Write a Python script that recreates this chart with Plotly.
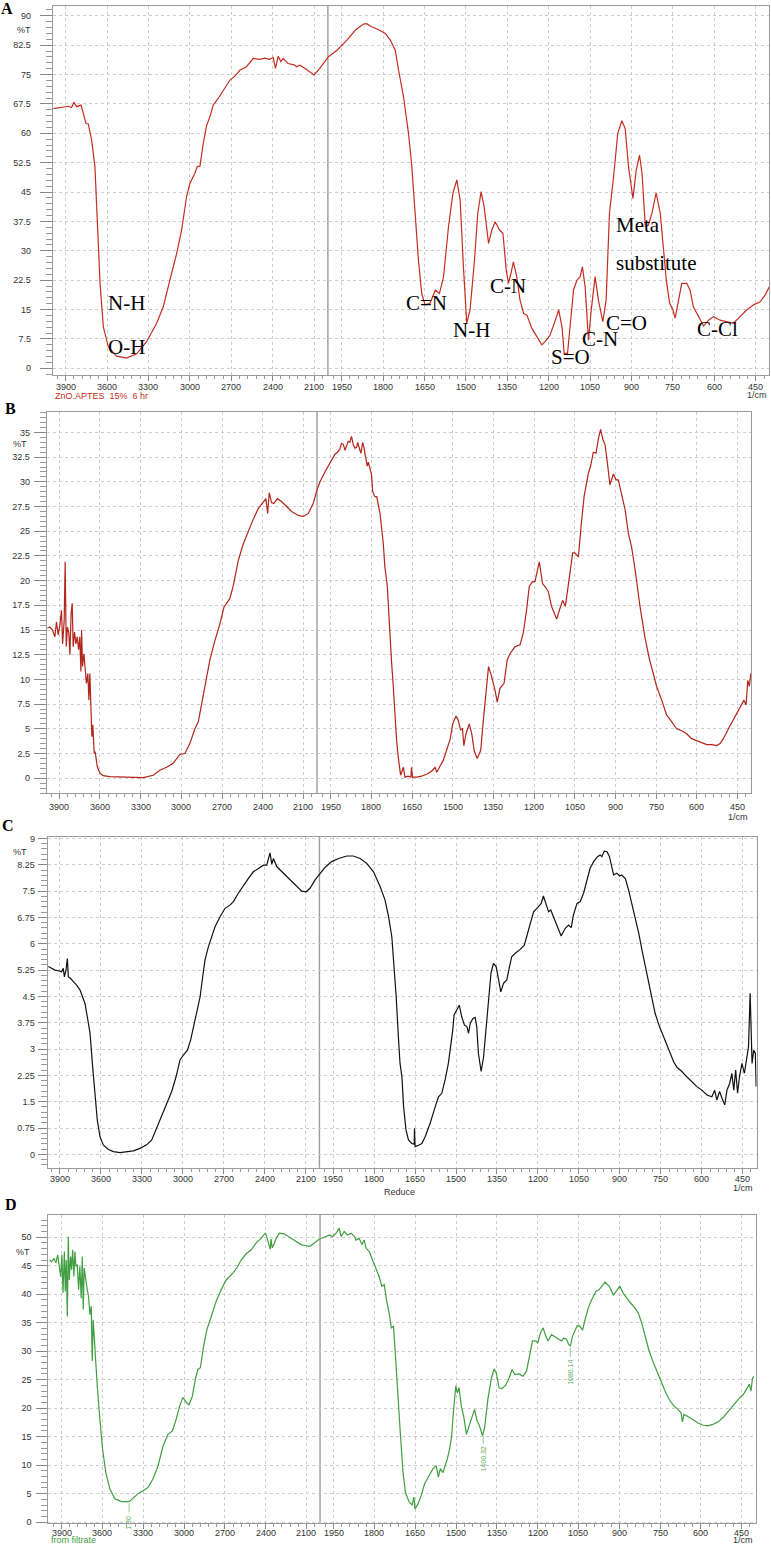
import numpy as np
import plotly.graph_objects as go

W, H = 771, 1544

# ---------------- data (wavenumber 1/cm, %T) ----------------
a_wn = [3989, 3917, 3881, 3857, 3840, 3820, 3789, 3772, 3753, 3736, 3712, 3688, 3671, 3651, 3627, 3591,
        3531, 3458, 3386, 3314, 3241, 3193, 3145, 3096, 3060, 3024, 3000, 2964, 2947, 2927, 2903, 2879,
        2855, 2831, 2795, 2759, 2710, 2674, 2638, 2590, 2541, 2493, 2457, 2421, 2397, 2380, 2360, 2341,
        2324, 2288, 2240, 2228, 2204, 2168, 2100, 2059, 1999, 1967, 1931, 1901, 1871, 1860, 1842, 1818,
        1792, 1774, 1756, 1744, 1726, 1708, 1696, 1684, 1672, 1660, 1648, 1630, 1611, 1596, 1581, 1563,
        1547, 1533, 1521, 1509, 1497, 1485, 1469, 1457, 1445, 1434, 1418, 1406, 1394, 1378, 1366, 1354,
        1346, 1337, 1328, 1316, 1304, 1291, 1279, 1261, 1243, 1225, 1213, 1195, 1176, 1164, 1152, 1144,
        1132, 1122, 1110, 1098, 1086, 1078, 1068, 1056, 1046, 1032, 1020, 1004, 992, 980, 965, 950,
        935, 923, 911, 895, 883, 871, 862, 850, 839, 826, 811, 796, 784, 774, 762, 750,
        742, 730, 718, 700, 688, 676, 658, 639, 621, 603, 579, 549, 531, 507, 483, 458,
        434, 416, 401]
a_pct = [66.3, 66.8, 66.9, 66.6, 67.9, 66.8, 67.2, 65.1, 62.5, 62.4, 58.3, 51.5, 38.7, 21.7, 10.6, 5.5,
         3.1, 2.6, 3.7, 6.8, 11.5, 15.7, 22.5, 29.3, 35.3, 43.8, 47.2, 49.8, 51.5, 51.6, 57.4, 62.0,
         64.2, 67.2, 68.9, 71.0, 73.6, 74.6, 76.1, 77.0, 79.1, 78.9, 79.2, 78.9, 79.4, 76.6, 79.7, 78.3,
         79.1, 77.8, 77.4, 77.0, 77.4, 76.6, 74.9, 76.6, 79.5, 81.2, 83.8, 86.3, 87.9, 88.0, 87.2, 86.5,
         85.5, 83.8, 81.2, 76.1, 69.3, 60.0, 51.5, 39.6, 27.6, 19.1, 16.2, 16.6, 20.0, 19.1, 23.4, 36.2,
         44.7, 48.1, 43.0, 25.9, 11.5, 14.9, 27.6, 39.6, 45.1, 41.3, 31.9, 35.3, 37.4, 35.3, 34.5, 25.1,
         21.7, 24.2, 27.2, 23.4, 17.4, 14.0, 13.6, 10.2, 8.1, 6.0, 6.8, 8.5, 12.3, 14.9, 10.6, 3.8,
         3.8, 11.5, 20.0, 22.5, 23.4, 25.9, 20.8, 7.2, 14.9, 23.4, 17.4, 11.9, 17.4, 39.6, 48.9, 60.0,
         63.2, 61.2, 51.5, 43.4, 50.6, 54.4, 49.8, 36.2, 36.6, 39.6, 44.8, 39.6, 30.2, 22.5, 16.6, 14.9,
         12.8, 17.4, 21.7, 21.7, 20.0, 15.7, 13.2, 10.8, 12.3, 13.2, 12.3, 11.9, 11.5, 13.2, 14.9, 16.2,
         17.0, 18.7, 20.8]

b_wn = [3986, 3969, 3949, 3932, 3920, 3907, 3895, 3883, 3875, 3863, 3856, 3848, 3839, 3829, 3821, 3812,
        3804, 3797, 3787, 3777, 3767, 3757, 3748, 3740, 3735, 3728, 3718, 3708, 3699, 3689, 3681, 3674,
        3667, 3659, 3652, 3642, 3635, 3620, 3600, 3576, 3527, 3453, 3355, 3281, 3207, 3158, 3109, 3060,
        3011, 2974, 2937, 2900, 2875, 2851, 2826, 2789, 2753, 2716, 2686, 2642, 2617, 2581, 2544, 2507,
        2470, 2433, 2396, 2377, 2364, 2352, 2335, 2318, 2293, 2261, 2224, 2187, 2138, 2101, 2065, 2028,
        2000, 1989, 1971, 1952, 1934, 1925, 1916, 1910, 1903, 1897, 1891, 1885, 1879, 1873, 1866, 1860,
        1854, 1850, 1842, 1838, 1832, 1828, 1823, 1815, 1811, 1805, 1799, 1795, 1787, 1780, 1768, 1756,
        1750, 1741, 1734, 1725, 1719, 1713, 1707, 1701, 1692, 1682, 1676, 1664, 1654, 1652, 1648, 1633,
        1615, 1596, 1578, 1565, 1559, 1547, 1535, 1523, 1510, 1500, 1488, 1480, 1471, 1464, 1459, 1451,
        1439, 1430, 1421, 1410, 1397, 1387, 1378, 1368, 1357, 1344, 1336, 1326, 1311, 1299, 1289, 1271,
        1252, 1240, 1228, 1218, 1206, 1197, 1181, 1169, 1160, 1148, 1136, 1117, 1107, 1095, 1085, 1074,
        1058, 1050, 1037, 1027, 1016, 1000, 992, 982, 972, 963, 955, 947, 939, 930, 921, 908,
        898, 890, 878, 865, 853, 841, 828, 810, 792, 775, 761, 749, 730, 712, 693, 675,
        656, 638, 620, 601, 583, 564, 546, 527, 515, 503, 484, 466, 448, 435, 427, 419,
        413, 407, 402]
b_pct = [15.2, 15.3, 15.0, 14.3, 15.8, 14.5, 15.5, 17.0, 13.6, 16.0, 21.9, 13.3, 15.3, 14.7, 12.5, 16.7,
         17.7, 13.3, 14.8, 13.6, 14.3, 13.0, 14.3, 10.8, 15.0, 11.3, 12.6, 11.3, 9.6, 10.6, 7.9, 10.6,
         6.6, 4.2, 5.4, 2.5, 2.7, 1.2, 0.5, 0.25, 0.15, 0.1, 0.05, 0.05, 0.3, 0.8, 1.1, 1.5,
         2.4, 2.5, 3.5, 5.0, 5.7, 7.5, 9.6, 12.0, 13.9, 15.6, 17.3, 18.2, 19.5, 22.0, 23.7, 25.0,
         26.2, 27.3, 28.0, 28.3, 26.8, 28.9, 27.9, 27.8, 28.3, 28.0, 27.5, 27.0, 26.6, 26.5, 26.8, 27.8,
         29.2, 30.0, 31.0, 32.0, 32.8, 33.0, 33.3, 33.9, 33.8, 33.2, 33.6, 34.1, 34.0, 34.6, 33.7, 33.4,
         33.5, 34.0, 33.2, 32.9, 34.0, 33.6, 32.8, 31.6, 32.0, 31.2, 30.7, 29.0, 28.5, 28.5, 26.8, 23.8,
         21.4, 19.4, 15.3, 11.6, 9.3, 6.2, 3.9, 2.2, 0.3, 1.1, 0.1, 0.2, 0.1, 1.1, 0.1, 0.1,
         0.2, 0.4, 0.7, 1.1, 0.6, 1.2, 1.8, 2.8, 3.9, 5.5, 6.3, 5.9, 4.9, 5.0, 3.3, 4.5,
         5.5, 4.5, 2.8, 2.0, 2.8, 5.9, 8.9, 11.3, 10.3, 8.9, 7.7, 9.1, 9.6, 12.0, 12.6, 13.3,
         13.5, 14.7, 17.0, 19.4, 19.9, 19.9, 21.9, 19.7, 19.4, 18.9, 17.4, 16.1, 17.0, 18.0, 17.4, 19.4,
         22.8, 22.8, 22.4, 25.5, 28.5, 30.9, 31.6, 33.0, 32.9, 34.4, 35.3, 34.3, 33.8, 31.9, 29.7, 30.8,
         30.2, 30.2, 28.9, 27.2, 24.8, 23.4, 21.1, 17.4, 14.3, 12.0, 10.6, 9.3, 7.9, 6.4, 5.7, 5.0,
         4.8, 4.5, 4.0, 3.8, 3.6, 3.4, 3.4, 3.3, 3.5, 4.0, 5.0, 5.9, 6.9, 7.4, 7.9, 7.4,
         9.9, 9.3, 10.6]

c_wn = [3985, 3961, 3937, 3912, 3888, 3876, 3868, 3856, 3846, 3839, 3822, 3802, 3778, 3753, 3734, 3717,
        3700, 3680, 3661, 3644, 3627, 3607, 3583, 3546, 3509, 3460, 3412, 3363, 3314, 3265, 3228, 3192,
        3155, 3119, 3082, 3050, 3021, 2996, 2967, 2943, 2918, 2894, 2874, 2855, 2838, 2813, 2789, 2764,
        2728, 2691, 2655, 2630, 2594, 2557, 2520, 2484, 2447, 2410, 2386, 2371, 2362, 2349, 2337, 2313,
        2264, 2215, 2166, 2130, 2098, 2069, 2032, 1998, 1979, 1955, 1930, 1900, 1876, 1851, 1827, 1802,
        1778, 1760, 1747, 1735, 1727, 1719, 1711, 1705, 1698, 1692, 1683, 1674, 1662, 1653, 1652, 1650,
        1637, 1625, 1613, 1595, 1576, 1564, 1552, 1540, 1528, 1519, 1512, 1507, 1497, 1488, 1479, 1469,
        1460, 1454, 1448, 1438, 1430, 1424, 1418, 1408, 1399, 1390, 1381, 1372, 1363, 1353, 1344, 1336,
        1326, 1314, 1304, 1296, 1283, 1265, 1250, 1241, 1228, 1216, 1198, 1188, 1180, 1171, 1161, 1153,
        1143, 1131, 1115, 1100, 1088, 1078, 1070, 1057, 1045, 1033, 1021, 1009, 996, 982, 972, 966,
        957, 947, 938, 929, 923, 911, 901, 893, 880, 868, 856, 844, 831, 819, 807, 795,
        783, 771, 755, 740, 728, 715, 703, 691, 673, 655, 636, 618, 600, 581, 563, 553,
        545, 535, 526, 516, 508, 498, 490, 483, 476, 469, 462, 453, 444, 435, 429, 423,
        416, 410, 404, 401]
c_pct = [5.35, 5.30, 5.25, 5.23, 5.20, 5.30, 5.06, 5.25, 5.58, 5.06, 5.01, 4.92, 4.82, 4.68, 4.49, 4.30,
         3.92, 3.45, 2.50, 1.64, 0.98, 0.50, 0.27, 0.14, 0.08, 0.05, 0.08, 0.10, 0.17, 0.27, 0.41, 0.74,
         1.07, 1.45, 1.79, 2.21, 2.69, 2.83, 2.97, 3.26, 3.73, 4.21, 4.49, 5.06, 5.54, 5.92, 6.20, 6.49,
         6.77, 7.01, 7.10, 7.20, 7.44, 7.67, 7.86, 8.05, 8.15, 8.24, 8.24, 8.43, 8.59, 8.27, 8.43, 8.20,
         8.01, 7.82, 7.63, 7.50, 7.48, 7.58, 7.82, 8.01, 8.18, 8.34, 8.43, 8.50, 8.50, 8.43, 8.29, 8.05,
         7.63, 7.25, 6.77, 6.20, 5.44, 4.49, 3.35, 2.59, 2.21, 1.36, 0.69, 0.41, 0.31, 0.29, 0.74, 0.22,
         0.26, 0.31, 0.50, 0.88, 1.36, 1.64, 1.74, 2.12, 2.59, 3.07, 3.54, 3.97, 4.11, 4.25, 3.92, 3.68,
         3.64, 3.45, 3.73, 3.87, 3.90, 3.64, 2.88, 2.36, 2.78, 3.54, 4.49, 5.16, 5.44, 5.35, 4.97, 4.63,
         4.87, 4.97, 5.35, 5.63, 5.73, 5.84, 5.96, 6.20, 6.58, 6.91, 7.06, 7.15, 7.36, 7.15, 6.91, 6.96,
         6.77, 6.49, 6.22, 6.44, 6.53, 6.46, 6.82, 7.15, 7.20, 7.44, 7.82, 8.15, 8.34, 8.48, 8.53, 8.48,
         8.64, 8.62, 8.48, 8.20, 7.96, 8.01, 7.93, 7.96, 7.86, 7.53, 7.15, 6.77, 6.30, 5.82, 5.35, 4.87,
         4.40, 4.02, 3.64, 3.35, 3.11, 2.88, 2.64, 2.48, 2.36, 2.21, 2.07, 1.93, 1.83, 1.69, 1.64, 1.83,
         1.55, 1.79, 1.60, 1.41, 1.83, 2.02, 2.31, 1.83, 2.40, 1.74, 2.21, 2.59, 2.31, 2.78, 3.07, 4.59,
         2.59, 2.97, 2.88, 1.93]

d_wn = [3990, 3973, 3956, 3942, 3929, 3917, 3907, 3898, 3890, 3880, 3873, 3866, 3858, 3851, 3844, 3834,
        3827, 3819, 3810, 3802, 3795, 3785, 3775, 3766, 3756, 3748, 3741, 3734, 3724, 3712, 3702, 3692,
        3682, 3675, 3668, 3655, 3638, 3619, 3599, 3575, 3545, 3509, 3460, 3404, 3374, 3338, 3301, 3264,
        3228, 3191, 3154, 3118, 3086, 3061, 3032, 3008, 2983, 2964, 2939, 2915, 2898, 2880, 2856, 2832,
        2800, 2763, 2727, 2690, 2641, 2612, 2580, 2543, 2506, 2470, 2433, 2404, 2396, 2379, 2367, 2360,
        2352, 2335, 2323, 2299, 2262, 2225, 2176, 2140, 2103, 2074, 2042, 2005, 1984, 1966, 1954, 1941,
        1929, 1923, 1911, 1899, 1886, 1874, 1868, 1856, 1846, 1838, 1831, 1819, 1807, 1795, 1783, 1773,
        1764, 1756, 1746, 1738, 1730, 1722, 1714, 1705, 1695, 1686, 1673, 1662, 1655, 1651, 1640, 1628,
        1616, 1600, 1585, 1573, 1565, 1558, 1548, 1540, 1532, 1524, 1516, 1509, 1501, 1495, 1489, 1481,
        1472, 1462, 1452, 1444, 1432, 1423, 1416, 1403, 1395, 1383, 1370, 1360, 1352, 1342, 1333, 1318,
        1305, 1294, 1284, 1268, 1254, 1241, 1229, 1219, 1207, 1199, 1190, 1180, 1170, 1162, 1149, 1137,
        1125, 1113, 1104, 1094, 1086, 1080, 1072, 1064, 1054, 1045, 1035, 1027, 1014, 1002, 986, 974,
        962, 952, 937, 922, 910, 898, 886, 873, 859, 843, 830, 818, 806, 790, 775, 760,
        745, 729, 714, 699, 683, 673, 668, 662, 646, 628, 610, 591, 573, 554, 536, 518,
        499, 483, 468, 456, 444, 432, 422, 416, 410, 405]
d_pct = [46.0, 45.7, 46.3, 45.5, 46.9, 44.9, 43.1, 46.9, 40.2, 47.5, 40.5, 46.0, 36.1, 50.1, 42.5, 46.6,
         44.3, 47.8, 43.1, 47.5, 44.9, 45.2, 40.8, 44.9, 39.3, 46.6, 37.3, 44.6, 42.5, 40.8, 39.6, 36.4,
         37.9, 28.3, 35.5, 29.7, 23.9, 18.1, 12.8, 8.7, 5.8, 4.1, 3.6, 3.6, 4.2, 5.0, 5.5, 6.1,
         7.6, 9.9, 13.4, 15.4, 16.0, 17.8, 20.4, 21.9, 21.0, 20.6, 22.1, 25.3, 26.8, 27.1, 30.9, 33.8,
         36.1, 38.8, 40.8, 42.5, 43.7, 44.6, 46.0, 47.1, 47.8, 49.0, 49.8, 50.7, 50.4, 48.7, 47.9, 49.7,
         48.1, 49.0, 49.8, 50.7, 50.6, 50.0, 49.2, 48.7, 48.5, 48.4, 49.0, 49.7, 50.0, 50.4, 50.1, 50.7,
         51.6, 50.1, 51.0, 50.4, 50.7, 50.2, 49.5, 49.8, 48.7, 49.5, 48.1, 47.5, 46.0, 44.6, 43.1, 41.4,
         41.7, 39.0, 36.7, 34.1, 34.4, 28.6, 21.6, 15.7, 8.7, 5.2, 3.6, 3.0, 4.4, 2.3, 3.2, 4.7,
         6.7, 8.2, 9.4, 9.9, 7.9, 9.4, 8.7, 9.9, 11.1, 12.8, 15.2, 19.8, 23.9, 22.7, 23.6, 20.4,
         18.6, 15.4, 16.9, 18.4, 19.8, 17.8, 17.2, 15.2, 16.6, 21.6, 25.3, 26.9, 26.2, 23.6, 23.4, 24.0,
         25.3, 26.8, 25.9, 26.0, 25.6, 26.5, 29.1, 31.8, 31.8, 31.5, 33.2, 34.1, 32.6, 31.8, 32.9, 32.6,
         32.2, 31.8, 32.3, 32.1, 31.2, 30.9, 32.6, 33.5, 34.5, 34.4, 33.7, 35.3, 37.6, 39.0, 40.5, 40.8,
         41.5, 42.1, 41.4, 39.9, 40.6, 41.4, 40.2, 39.3, 38.5, 37.6, 36.7, 35.0, 32.9, 30.0, 28.0, 26.2,
         24.5, 22.7, 21.3, 20.4, 19.7, 19.2, 17.6, 18.9, 18.5, 17.9, 17.4, 17.0, 16.9, 17.2, 17.6, 18.4,
         19.5, 20.4, 21.3, 21.9, 22.4, 23.3, 24.2, 23.0, 25.3, 25.6]

x_tick_labels = [3900, 3600, 3300, 3000, 2700, 2400, 2100, 1950, 1800,
                 1650, 1500, 1350, 1200, 1050, 900, 750, 600, 450]

# band assignments written on spectrum A
band_labels = ["N-H", "O-H", "C=N", "N-H", "C-N", "S=O", "C-N", "C=O", "C-Cl"]
band_wn = [3456, 3456, 1642, 1481, 1346, 1121, 1014, 917, 590]
band_pct = [16.6, 5.4, 16.6, 9.8, 21.0, 3.0, 7.6, 11.5, 10.0]
meta_lines = ["Meta", "substitute"]
meta_wn = 962
meta_pct = [36.6, 27.0]

# peak picks printed on spectrum D
d_peak_wn = [3404, 1400.32, 1080.14]
d_peak_text = ["1.30", "1400.32", "1080.14"]

sample_names = ["ZnO.APTES  15%  6 hr", "", "Reduce", "from filtrate"]
panel_letters = ["A", "B", "C", "D"]


def axis_pos(w):
    """Shimadzu-style split scale: region above 2000 1/cm is compressed 2x."""
    w = np.asarray(w, dtype=float)
    return np.where(w > 2000, 2000 + (w - 2000) / 2.0, w)


# ---------------- layout geometry (pixels) ----------------
panels = [
    dict(wn=a_wn, pct=a_pct, color="#c42d20", box=(52.7, 769.0, 6.0, 375.0), xr=(2997, 402),
         yr=(-1.7, 92.5), dtick=7.5, ylen=12, ystand=7, xlab_dy=12, pctlab=(33, 30),
         cm=(757, 395), name_xy=(53, 396), name_color="#c42d20", letter_xy=(7, 8)),
    dict(wn=b_wn, pct=b_pct, color="#b3241a", box=(46.7, 751.0, 411.7, 793.0), xr=(2996, 401),
         yr=(-1.5, 37.1), dtick=2.5, ylen=12, ystand=2, xlab_dy=14, pctlab=(29, 444),
         cm=(738, 817), name_xy=None, name_color="#333", letter_xy=(10, 408)),
    dict(wn=c_wn, pct=c_pct, color="#111111", box=(47.7, 756.7, 836.7, 1167.7), xr=(2995, 399),
         yr=(-0.38, 9.05), dtick=0.75, ylen=9, ystand=1, xlab_dy=11.5, pctlab=(29, 852),
         cm=(743, 1188), name_xy=(382, 1192), name_color="#333", letter_xy=(8, 825)),
    dict(wn=d_wn, pct=d_pct, color="#3f9e3f", box=(48.3, 755.7, 1215.0, 1523.3), xr=(2999, 398.5),
         yr=(-0.2, 53.9), dtick=5, ylen=11, ystand=3, xlab_dy=10, pctlab=(32, 1252),
         cm=(743, 1540), name_xy=(49, 1540), name_color="#3f9e3f", letter_xy=(11, 1204)),
]

tick_font = dict(family="Liberation Sans, Arial, sans-serif", size=9, color="#333333")

# minor tick positions on the transformed scale
minor_x = sorted(set(list(np.arange(2050, 2990, 30)) + [2020, 1980] + list(np.arange(1950, 400, -30))))
minor_x = [float(v) for v in minor_x]
major_x = [float(v) for v in axis_pos(x_tick_labels)]

fig = go.Figure()
annotations = []
shapes = []
layout_axes = {}

for i, p in enumerate(panels, start=1):
    xs = "x" if i == 1 else f"x{i}"
    ys = "y" if i == 1 else f"y{i}"
    xl = "xaxis" if i == 1 else f"xaxis{i}"
    yl = "yaxis" if i == 1 else f"yaxis{i}"
    left, right, top, bottom = p["box"]

    fig.add_trace(go.Scatter(x=axis_pos(p["wn"]), y=p["pct"], mode="lines",
                             line=dict(color=p["color"], width=1.2),
                             xaxis=xs, yaxis=ys, showlegend=False, hoverinfo="skip"))

    layout_axes[xl] = dict(
        domain=[left / W, right / W], range=list(p["xr"]), anchor=ys, automargin=False,
        tickmode="array", tickvals=major_x, showticklabels=False,
        ticks="outside", ticklen=5, tickcolor="#888", tickwidth=1,
        showgrid=True, gridcolor="#cdcdcd", griddash="dot", gridwidth=1,
        showline=True, linecolor="#9a9a9a", linewidth=1, mirror=True, zeroline=False,
        minor=dict(tickmode="array", tickvals=minor_x, ticks="outside", ticklen=3,
                   tickcolor="#999", showgrid=False),
    )
    layout_axes[yl] = dict(
        domain=[1 - bottom / H, 1 - top / H], range=list(p["yr"]), anchor=xs, automargin=False,
        tick0=0, dtick=p["dtick"], ticks="outside", ticklen=p["ylen"], tickcolor="#888",
        tickfont=tick_font, ticklabelstandoff=p["ystand"],
        showgrid=True, gridcolor="#cdcdcd", griddash="dot", gridwidth=1,
        showline=True, linecolor="#9a9a9a", linewidth=1, mirror=True, zeroline=False,
        minor=dict(dtick=p["dtick"] / 5, tick0=0, ticks="outside", ticklen=6,
                   tickcolor="#999", showgrid=False),
    )

    # x tick labels (placed on the data scale, just under the frame)
    ylab = 1 - (bottom + p["xlab_dy"]) / H
    for tv, lab in zip(major_x, x_tick_labels):
        annotations.append(dict(text=str(lab), x=tv, xref=xs, y=ylab, yref="paper",
                                xanchor="center", yanchor="middle", showarrow=False,
                                font=tick_font))

    # 2000 1/cm scale-change line
    shapes.append(dict(type="line", xref=xs, yref=f"{ys} domain", x0=2000, x1=2000, y0=0, y1=1,
                       line=dict(color="#9c9c9c", width=1.4), layer="below"))

    # %T, 1/cm, sample name, panel letter
    annotations.append(dict(text="%T", x=p["pctlab"][0] / W, y=1 - p["pctlab"][1] / H,
                            xref="paper", yref="paper", xanchor="right", yanchor="middle",
                            showarrow=False, font=tick_font))
    annotations.append(dict(text="1/cm", x=p["cm"][0] / W, y=1 - p["cm"][1] / H,
                            xref="paper", yref="paper", xanchor="center", yanchor="middle",
                            showarrow=False, font=tick_font))
    if p["name_xy"] is not None and sample_names[i - 1]:
        annotations.append(dict(text=sample_names[i - 1], x=p["name_xy"][0] / W,
                                y=1 - p["name_xy"][1] / H, xref="paper", yref="paper",
                                xanchor="left", yanchor="middle", showarrow=False,
                                font=dict(family="Liberation Sans, Arial, sans-serif", size=9,
                                          color=p["name_color"])))
    annotations.append(dict(text=f"<b>{panel_letters[i - 1]}</b>", x=p["letter_xy"][0] / W,
                            y=1 - p["letter_xy"][1] / H, xref="paper", yref="paper",
                            xanchor="center", yanchor="middle", showarrow=False,
                            font=dict(family="Liberation Serif, Times New Roman, serif", size=16,
                                      color="#000")))

# band labels on A
serif = dict(family="Liberation Serif, Times New Roman, serif", size=21, color="#000")
for lab, w, v in zip(band_labels, band_wn, band_pct):
    annotations.append(dict(text=lab, x=float(axis_pos(w)), y=v, xref="x", yref="y",
                            xanchor="center", yanchor="middle", showarrow=False, font=serif))
for lab, v in zip(meta_lines, meta_pct):
    annotations.append(dict(text=lab, x=float(axis_pos(meta_wn)), y=v, xref="x", yref="y",
                            xanchor="left", yanchor="middle", showarrow=False, font=serif))

# peak picks on D
pd_ = panels[3]
ppx = (pd_["yr"][1] - pd_["yr"][0]) / (pd_["box"][3] - pd_["box"][2])  # %T per pixel
order = np.argsort(d_wn)
lx, ly = [], []
for w, t in zip(d_peak_wn, d_peak_text):
    v = float(np.interp(w, np.array(d_wn)[order], np.array(d_pct)[order]))
    xpos = float(axis_pos(w))
    lx += [xpos, xpos, None]
    ly += [v - 1.5 * ppx, v - 11 * ppx, None]
    annotations.append(dict(text=t, x=xpos, y=v - 12 * ppx, xref="x4", yref="y4",
                            xanchor="center", yanchor="top", textangle=-90, showarrow=False,
                            font=dict(family="Liberation Sans, Arial, sans-serif", size=7,
                                      color="#5aab5a")))
fig.add_trace(go.Scatter(x=lx, y=ly, mode="lines", line=dict(color="#7fbf7f", width=0.8),
                         xaxis="x4", yaxis="y4", showlegend=False, hoverinfo="skip"))

fig.update_layout(template="none", width=W, height=H,
                  margin=dict(l=0, r=0, t=0, b=0, autoexpand=False),
                  paper_bgcolor="white", plot_bgcolor="white",
                  annotations=annotations, shapes=shapes, showlegend=False, **layout_axes)

fig.write_html("out.html", config={"displayModeBar": False},
               post_script="document.body.style.margin='0';document.body.style.overflow='hidden';")
